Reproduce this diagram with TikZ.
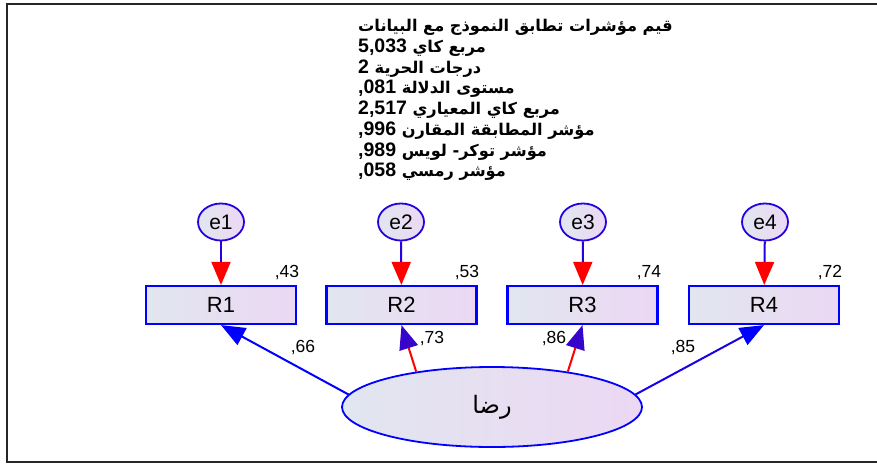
\documentclass[tikz,border=0pt]{standalone}
\usepackage{fontspec}
\setmainfont{Liberation Sans}
\newfontfamily\arfont[Script=Arabic]{DejaVu Sans}
\newfontfamily\latfont{Liberation Sans}
\TeXXeTstate=1
\usetikzlibrary{arrows.meta,shapes.geometric}
\definecolor{boxL}{HTML}{E1E6F0}
\definecolor{boxR}{HTML}{ECD8F3}
\definecolor{amosblue}{HTML}{0000FF}
\definecolor{amosred}{HTML}{FF0000}
\definecolor{amospurple}{HTML}{7A0A8C}
\newcommand{\fitline}[2]{\arfont\bfseries\beginR #1\beginL{\latfont\bfseries\fontsize{19.5}{19.5}\selectfont #2}\endL\endR}
\begin{document}
\begin{tikzpicture}[x=1pt,y=-1pt,
  obsbox/.style={draw=amosblue, line width=2.2pt, left color=boxL, right color=boxR,
    minimum width=150pt, minimum height=38pt, inner sep=0pt,
    font=\fontsize{22}{22}\selectfont},
  errnode/.style={ellipse, draw=amosblue!70!amospurple, line width=1.8pt, left color=boxL, right color=boxR,
    minimum width=46pt, minimum height=37pt, inner sep=0pt,
    font=\fontsize{21}{21}\selectfont},
  latnode/.style={ellipse, draw=amosblue, line width=1.8pt, left color=boxL, right color=boxR,
    minimum width=300pt, minimum height=80pt, inner sep=0pt},
  numlbl/.style={font=\fontsize{17.5}{17.5}\selectfont, inner sep=0pt},
  fitlbl/.style={anchor=west, inner sep=0pt, font=\fontsize{16.2}{17}\selectfont},
  errarrow/.style={line width=2pt, draw=amosblue!70!amospurple,
    -{Triangle[length=23pt,width=19pt,color=amosred]}},
  loadarrow/.style={line width=2pt, -{Triangle[length=24pt,width=19pt,color=#1]}}
]
\useasboundingbox (0,0) rectangle (877,464);
\clip (0,0) rectangle (877,464);
\fill[white] (0,0) rectangle (877,464);
\draw[line width=2.4pt, black!85] (890,4) -- (7,4) -- (7,462) -- (890,462);

% fit indices
\node[fitlbl] (t1) at (358,27) {\arfont\bfseries\beginR قيم مؤشرات تطابق النموذج مع البيانات\endR};
\node[fitlbl] (t2) at (358,48) {\fitline{مربع كاي }{5,033}};
\node[fitlbl] (t3) at (358,68.5) {\fitline{درجات الحرية }{2}};
\node[fitlbl] (t4) at (358,89) {\fitline{مستوى الدلالة }{,081}};
\node[fitlbl] (t5) at (358,110) {\fitline{مربع كاي المعياري }{2,517}};
\node[fitlbl] (t6) at (358,130.5) {\fitline{مؤشر المطابقة المقارن }{,996}};
\node[fitlbl] (t7) at (358,151.5) {\fitline{مؤشر توكر- لويس }{,989}};
\node[fitlbl] (t8) at (358,172) {\fitline{مؤشر رمسي }{,058}};

% error terms
\node[errnode] (e1) at (221,222) {e1};
\node[errnode] (e2) at (401,222) {e2};
\node[errnode] (e3) at (583,222) {e3};
\node[errnode] (e4) at (765,222) {e4};

% observed variables
\node[obsbox] (R1) at (221,305) {R1};
\node[obsbox] (R2) at (401.5,305) {R2};
\node[obsbox] (R3) at (582.5,305) {R3};
\node[obsbox] (R4) at (764,305) {R4};

% latent
\node[latnode] (F) at (492,407) {\fontsize{24}{24}\selectfont\arfont\beginR رضا\endR};

% arrows
\draw[errarrow] (e1) -- (R1);
\draw[errarrow] (e2) -- (R2);
\draw[errarrow] (e3) -- (R3);
\draw[errarrow] (e4) -- (R4);

\draw[loadarrow=amosblue, draw=amosblue] (F.175) -- (R1.south);
\draw[loadarrow=amosblue!55!amospurple, draw=amosred] (F.155) -- (R2.south);
\draw[loadarrow=amosblue!55!amospurple, draw=amosred] (F.25) -- (R3.south);
\draw[loadarrow=amosblue, draw=amosblue!80!amospurple] (F.5) -- (R4.south);

% labels
\node[numlbl] (l1) at (287,273) {,43};
\node[numlbl] (l2) at (467,273) {,53};
\node[numlbl] (l3) at (649,273) {,74};
\node[numlbl] (l4) at (830,273) {,72};
\node[numlbl] (w1) at (303,348) {,66};
\node[numlbl] (w2) at (432,339) {,73};
\node[numlbl] (w3) at (554,339) {,86};
\node[numlbl] (w4) at (683,348) {,85};
\end{tikzpicture}
\end{document}
